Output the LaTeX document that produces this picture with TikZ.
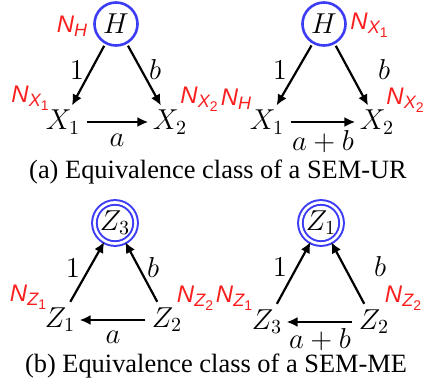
\documentclass[tikz,border=0pt]{standalone}
\usepackage{fontspec}
\setmainfont{Liberation Serif}
\newfontfamily\labfont{Liberation Sans}
\usetikzlibrary{arrows.meta}
\definecolor{cblue}{RGB}{60,60,245}
\definecolor{cred}{RGB}{250,30,30}
\newcommand{\nlab}[2]{N\raisebox{-2.2pt}{\fontsize{9}{9}\selectfont #1\raisebox{-1.6pt}{\upshape\fontsize{7}{7}\selectfont #2}}}
\newcommand{\nlabh}{N\raisebox{-2.2pt}{\fontsize{9}{9}\selectfont H}}
\begin{document}
\begin{tikzpicture}[x=0.5pt,y=-0.5pt,
  var/.style={inner sep=2pt, font=\fontsize{14}{17}\selectfont},
  hid/.style={circle, draw=cblue, line width=1.3pt, minimum size=21.5pt, inner sep=0pt, font=\fontsize{14}{17}\selectfont},
  obs/.style={circle, draw=cblue, double=white, double distance=1.3pt, line width=1pt, minimum size=20.6pt, inner sep=0pt, font=\fontsize{14}{17}\selectfont},
  arr/.style={-{Latex[length=5.5pt,width=5pt]}, line width=1.1pt, shorten <=1pt},
  elab/.style={inner sep=0pt, font=\fontsize{14}{17}\selectfont},
  noise/.style={inner sep=0pt, text=cred, font=\labfont\itshape\fontsize{12}{13}\selectfont},
  captext/.style={inner sep=0pt, font=\fontsize{13.2}{15}\selectfont}]
\useasboundingbox (0,0) rectangle (425,391);

% (a) left
\node[hid] (Ha) at (116,24) {$H$};
\node[var] (X1a) at (63,122) {$X_1$};
\node[var] (X2a) at (170,122) {$X_2$};
\draw[arr] (Ha) -- (X1a);
\draw[arr] (Ha) -- (X2a);
\draw[arr] (X1a) -- (X2a);
\node[elab] (la1) at (77,70) {$1$};
\node[elab] (la2) at (155,70) {$b$};
\node[elab] (la3) at (117,140) {$a$};
\node[noise] (na1) at (72,26) {\nlabh};
\node[noise] (na2) at (30,98) {\nlab{X}{1}};
\node[noise] (na3) at (199,99) {\nlab{X}{2}};

% (a) right
\node[hid] (Hb) at (324,24) {$H$};
\node[var] (X1b) at (267,122) {$X_1$};
\node[var] (X2b) at (377,122) {$X_2$};
\draw[arr] (Hb) -- (X1b);
\draw[arr] (Hb) -- (X2b);
\draw[arr] (X1b) -- (X2b);
\node[elab] (lb1) at (280,70) {$1$};
\node[elab] (lb2) at (384,70) {$b$};
\node[elab] (lb3) at (323,142) {$a+b$};
\node[noise] (nb1) at (369,25) {\nlab{X}{1}};
\node[noise] (nb2) at (236,99) {\nlabh};
\node[noise] (nb3) at (405,100) {\nlab{X}{2}};

\node[captext] (capa) at (218,172) {(a) Equivalence class of a SEM-UR};

% (b) left
\node[obs] (Z3c) at (115,223) {$Z_3$};
\node[var] (Z1c) at (60,320) {$Z_1$};
\node[var] (Z2c) at (167,320) {$Z_2$};
\draw[arr] (Z1c) -- (Z3c);
\draw[arr] (Z2c) -- (Z3c);
\draw[arr] (Z2c) -- (Z1c);
\node[elab] (lc1) at (73,268) {$1$};
\node[elab] (lc2) at (153,268) {$b$};
\node[elab] (lc3) at (113,337) {$a$};
\node[noise] (nc1) at (28,297) {\nlab{Z}{1}};
\node[noise] (nc2) at (195,298) {\nlab{Z}{2}};

% (b) right
\node[obs] (Z1d) at (321,223) {$Z_1$};
\node[var] (Z3d) at (267,322) {$Z_3$};
\node[var] (Z2d) at (374,322) {$Z_2$};
\draw[arr] (Z3d) -- (Z1d);
\draw[arr] (Z2d) -- (Z1d);
\draw[arr] (Z2d) -- (Z3d);
\node[elab] (ld1) at (280,267) {$1$};
\node[elab] (ld2) at (380,267) {$b$};
\node[elab] (ld3) at (320,340) {$a+b$};
\node[noise] (nd1) at (234,298) {\nlab{Z}{1}};
\node[noise] (nd2) at (403,298) {\nlab{Z}{2}};

\node[captext] (capb) at (216,366) {(b) Equivalence class of a SEM-ME};
\end{tikzpicture}
\end{document}
